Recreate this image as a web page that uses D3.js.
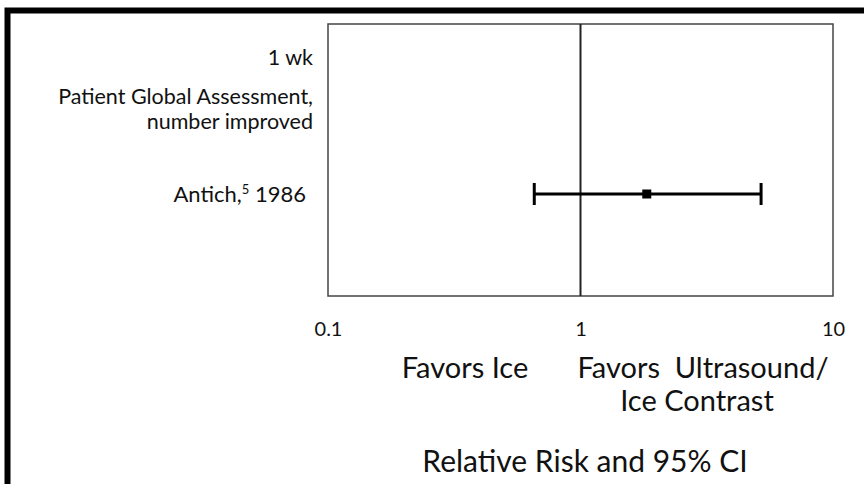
<!DOCTYPE html>
<html>
<head>
<meta charset="utf-8">
<script src="https://cdn.jsdelivr.net/npm/d3@7"></script>
<style>
  body { margin: 0; background: #fff; }
  text { font-family: "Lato", "Noto Sans", sans-serif; fill: #111; }
</style>
</head>
<body>
<div id="chart"></div>
<script>
// study rows
const studies = ["Antich"];
const studyRefs = ["5"];
const studyYears = ["1986"];
const relRisk = [1.83];
const ciLow = [0.656];
const ciHigh = [5.19];

// axis
const tickValues = [0.1, 1, 10];
const tickLabels = ["0.1", "1", "10"];

// heading labels on the left
const headerLines = ["1 wk", "Patient Global Assessment,", "number improved"];
const favorsLeft = ["Favors Ice"];
const favorsRight = ["Favors  Ultrasound/", "Ice Contrast"];
const axisTitle = "Relative Risk and 95% CI";

const width = 864;
const height = 484;
const plot = { left: 328, right: 833, top: 24, bottom: 296 };

const svg = d3.select("#chart")
    .append("svg")
    .attr("width", width)
    .attr("height", height);

// thick frame on top and left only
svg.append("path")
    .attr("d", `M7.5,${height} V10.5 H${width}`)
    .attr("fill", "none")
    .attr("stroke", "#000")
    .attr("stroke-width", 6);

const x = d3.scaleLog()
    .domain([0.1, 10])
    .range([plot.left, plot.right]);

const y = d3.scaleBand()
    .domain(studies)
    .range([150, 238]);

// plot box
svg.append("rect")
    .attr("x", plot.left)
    .attr("y", plot.top)
    .attr("width", plot.right - plot.left)
    .attr("height", plot.bottom - plot.top)
    .attr("fill", "none")
    .attr("stroke", "#444")
    .attr("stroke-width", 1.5);

// line of no effect
svg.append("line")
    .attr("x1", x(1)).attr("x2", x(1))
    .attr("y1", plot.top).attr("y2", plot.bottom)
    .attr("stroke", "#222")
    .attr("stroke-width", 2);

// axis labels only, no ticks
const axis = svg.append("g")
    .attr("transform", `translate(0,${plot.bottom})`)
    .call(d3.axisBottom(x)
        .tickValues(tickValues)
        .tickFormat((d, i) => tickLabels[i])
        .tickSize(0)
        .tickPadding(26));
axis.select(".domain").remove();
axis.selectAll("text")
    .style("font-family", "Lato, 'Noto Sans', sans-serif")
    .style("font-size", "20px")
    .attr("fill", "#111");

// CI and point estimate
const rows = svg.selectAll(".study")
    .data(studies)
    .enter()
    .append("g")
    .attr("class", "study");

rows.append("line")
    .attr("x1", (d, i) => x(ciLow[i]))
    .attr("x2", (d, i) => x(ciHigh[i]))
    .attr("y1", d => y(d) + y.bandwidth() / 2)
    .attr("y2", d => y(d) + y.bandwidth() / 2)
    .attr("stroke", "#000")
    .attr("stroke-width", 3);

[ciLow, ciHigh].forEach(arr => {
    rows.append("line")
        .attr("x1", (d, i) => x(arr[i]))
        .attr("x2", (d, i) => x(arr[i]))
        .attr("y1", d => y(d) + y.bandwidth() / 2 - 11)
        .attr("y2", d => y(d) + y.bandwidth() / 2 + 11)
        .attr("stroke", "#000")
        .attr("stroke-width", 3);
});

rows.append("rect")
    .attr("x", (d, i) => x(relRisk[i]) - 4.5)
    .attr("y", d => y(d) + y.bandwidth() / 2 - 4.5)
    .attr("width", 9)
    .attr("height", 9)
    .attr("fill", "#000");

// study labels
const lbl = rows.append("text")
    .attr("x", 306)
    .attr("y", d => y(d) + y.bandwidth() / 2 + 8)
    .attr("text-anchor", "end")
    .style("font-size", "22px");
lbl.append("tspan").text(d => d + ",");
lbl.append("tspan")
    .attr("baseline-shift", "super")
    .style("font-size", "13px")
    .text((d, i) => studyRefs[i]);
lbl.append("tspan").text((d, i) => " " + studyYears[i]);

// header lines
svg.selectAll(".header")
    .data(headerLines)
    .enter()
    .append("text")
    .attr("class", "header")
    .attr("x", 313)
    .attr("y", (d, i) => [65, 104, 129][i])
    .attr("text-anchor", "end")
    .style("font-size", "21.5px")
    .text(d => d);

// favors labels
svg.append("text")
    .attr("x", 465)
    .attr("y", 378)
    .attr("text-anchor", "middle")
    .style("font-size", "29px")
    .text(favorsLeft[0]);

svg.selectAll(".favR")
    .data(favorsRight)
    .enter()
    .append("text")
    .attr("class", "favR")
    .attr("x", (d, i) => [703, 697][i])
    .attr("y", (d, i) => 378 + i * 33)
    .attr("text-anchor", "middle")
    .attr("xml:space", "preserve")
    .style("white-space", "pre")
    .style("font-size", "29px")
    .text(d => d);

svg.append("text")
    .attr("x", 585)
    .attr("y", 472)
    .attr("text-anchor", "middle")
    .style("font-size", "30px")
    .text(axisTitle);
</script>
</body>
</html>
